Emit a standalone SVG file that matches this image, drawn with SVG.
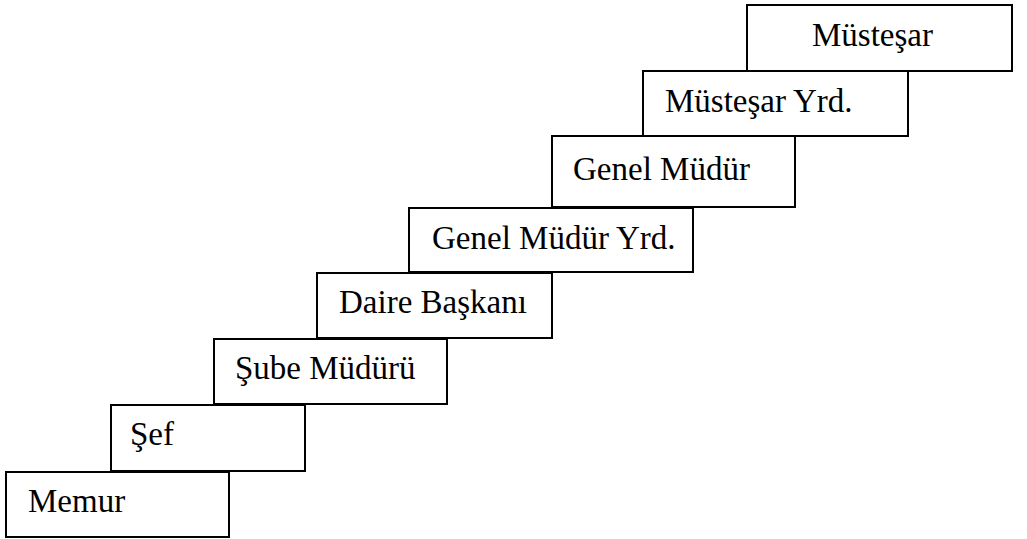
<svg xmlns="http://www.w3.org/2000/svg" width="1027" height="539" viewBox="0 0 1027 539">
<style>
.box{fill:#fff;stroke:#000;stroke-width:2}
.lbl{font-family:"Liberation Serif","Times New Roman",serif;font-size:33px;fill:#000}
</style>
<rect width="1027" height="539" fill="#fff"/>
<g id="musteşar"><rect class="box" x="747" y="5" width="265" height="66"/><text class="lbl" x="812" y="46">Müsteşar</text></g>
<g id="musteşar-yrd"><rect class="box" x="643" y="71" width="265" height="65"/><text class="lbl" x="665" y="112">Müsteşar Yrd.</text></g>
<g id="genel-mudur"><rect class="box" x="552" y="136" width="243" height="71"/><text class="lbl" x="573" y="180">Genel Müdür</text></g>
<g id="genel-mudur-yrd"><rect class="box" x="409" y="208" width="284" height="64"/><text class="lbl" x="432" y="249">Genel Müdür Yrd.</text></g>
<g id="daire-baskani"><rect class="box" x="317" y="273" width="235" height="65"/><text class="lbl" x="339" y="313">Daire Başkanı</text></g>
<g id="sube-muduru"><rect class="box" x="214" y="339" width="233" height="65"/><text class="lbl" x="235" y="379">Şube Müdürü</text></g>
<g id="sef"><rect class="box" x="111" y="405" width="194" height="66"/><text class="lbl" x="130" y="445">Şef</text></g>
<g id="memur"><rect class="box" x="6" y="472" width="223" height="65"/><text class="lbl" x="28" y="512">Memur</text></g>
</svg>
